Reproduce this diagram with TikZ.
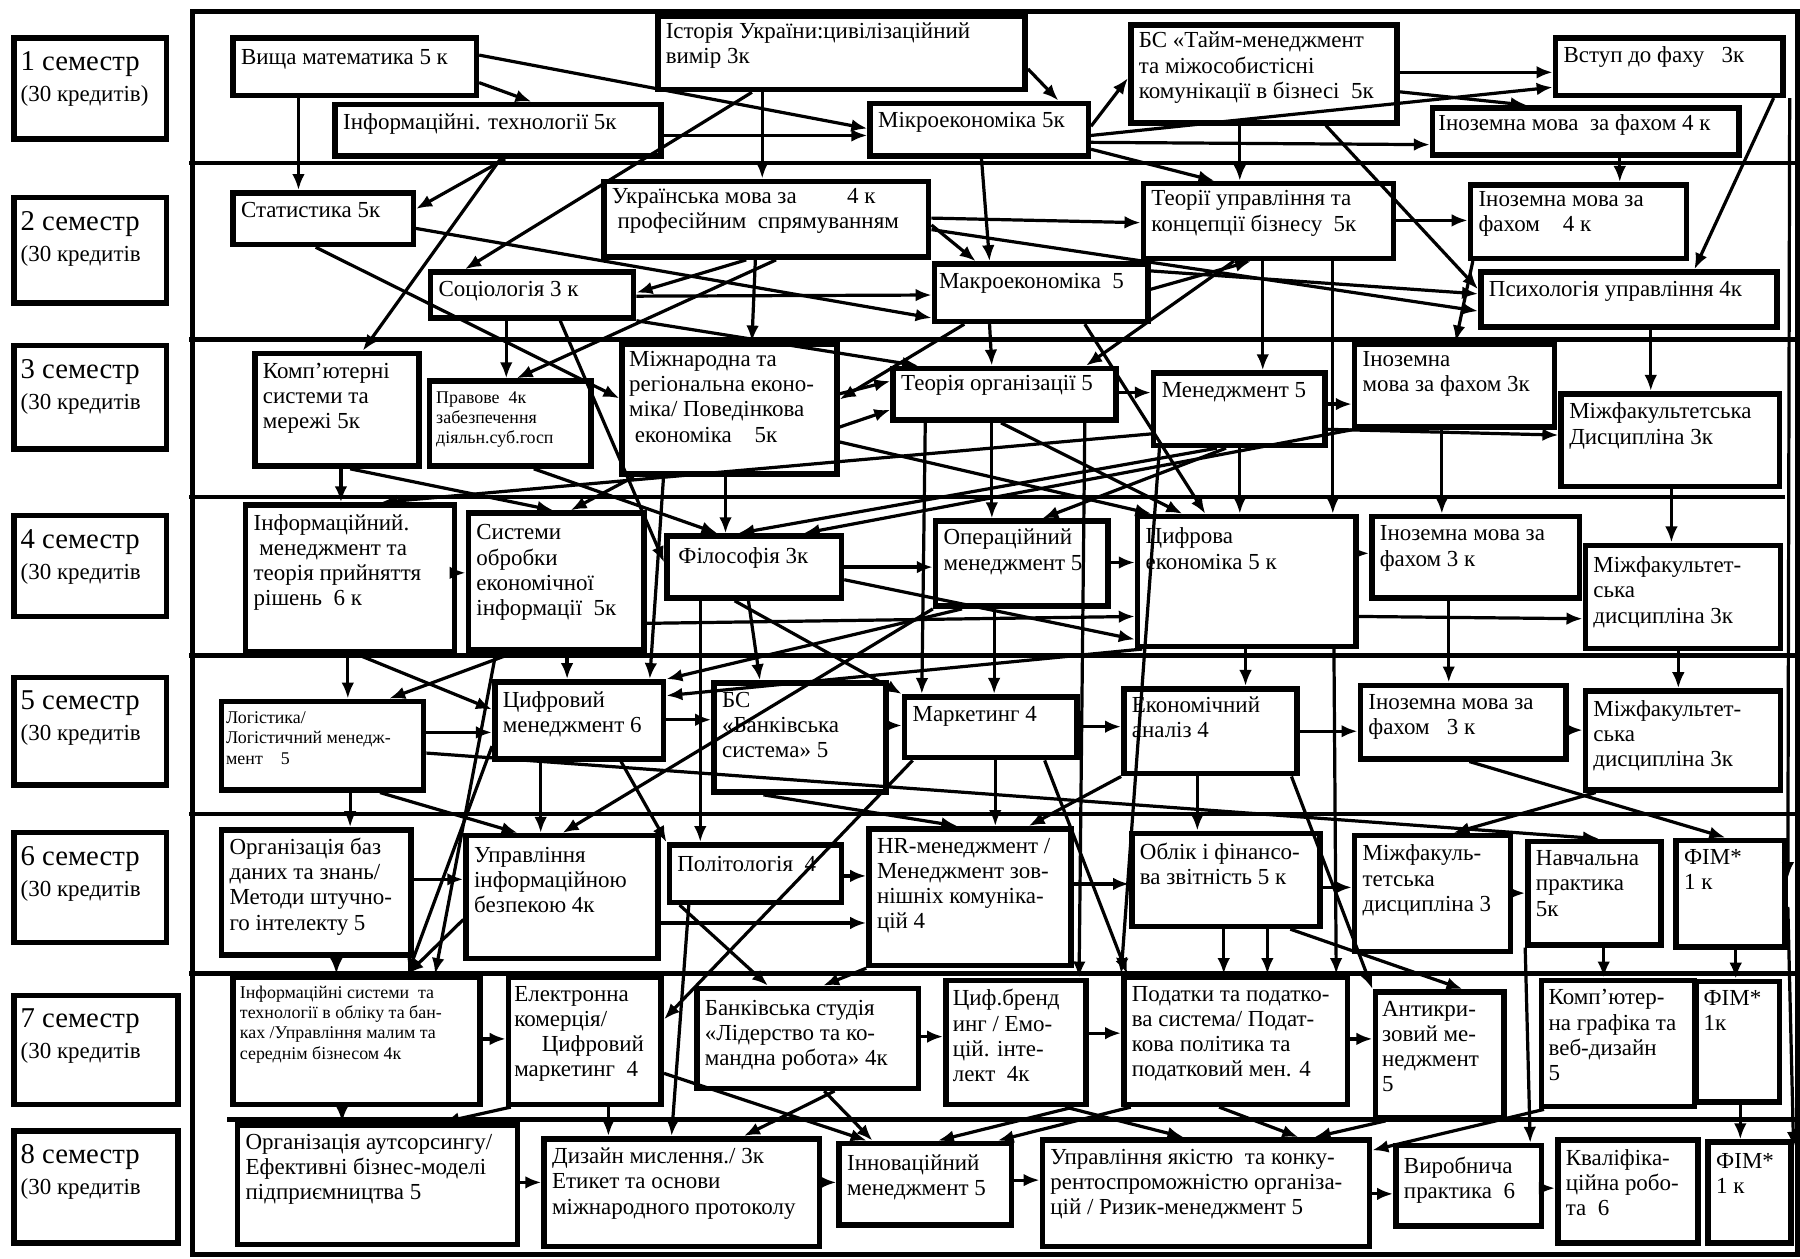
\documentclass[tikz,border=0pt]{standalone}
\usepackage{fontspec}
\setmainfont{Liberation Serif}
\usetikzlibrary{arrows.meta,fit}

\begin{document}
\begin{tikzpicture}[x=0.5pt, y=-0.5pt,
    box/.style={draw, line width=2.4pt, inner sep=0pt},
    txt/.style={anchor=north west, align=left, inner sep=0pt, font=\fontsize{10}{11}\selectfont},
    sm/.style={font=\fontsize{7.8}{8.8}\selectfont},
    sem/.style={font=\fontsize{12.5}{13.5}\selectfont},
    arr/.style={line width=1.4pt, -{Latex[length=7pt,width=5.5pt]}},
    sep/.style={line width=2pt}]
  \useasboundingbox (0,0) rectangle (1568,1096);

  % frame and semester rules
  \draw[line width=2.2pt] (168,10) rectangle (1566,1093);
  \draw[sep] (165,142) -- (1566,142);
  \draw[sep] (165,296) -- (1566,296);
  \draw[sep] (165,433) -- (1555,433);
  \draw[sep] (165,571) -- (1566,571);
  \draw[sep] (165,709) -- (1566,709);
  \draw[sep] (165,848) -- (1566,848);
  \draw[sep] (198,975) -- (1566,975);

  % semesters
  \node[box, fit={(12,33) (145,121)}] (S1) {};
  \node[box, fit={(12,172) (145,264)}] (S2) {};
  \node[box, fit={(12,301) (145,391)}] (S3) {};
  \node[box, fit={(12,449) (145,537)}] (S4) {};
  \node[box, fit={(12,590) (145,684)}] (S5) {};
  \node[box, fit={(12,725) (145,821)}] (S6) {};
  \node[box, fit={(12,867) (155,962)}] (S7) {};
  \node[box, fit={(12,985) (155,1083)}] (S8) {};
  \node[txt, sem] (S1t) at ([shift={(8,14)}]S1.north west) {1 семестр\\\fontsize{10}{11}\selectfont(30 кредитів)};
  \node[txt, sem] (S2t) at ([shift={(8,14)}]S2.north west) {2 семестр\\\fontsize{10}{11}\selectfont(30 кредитів};
  \node[txt, sem] (S3t) at ([shift={(8,14)}]S3.north west) {3 семестр\\\fontsize{10}{11}\selectfont(30 кредитів};
  \node[txt, sem] (S4t) at ([shift={(8,14)}]S4.north west) {4 семестр\\\fontsize{10}{11}\selectfont(30 кредитів};
  \node[txt, sem] (S5t) at ([shift={(8,14)}]S5.north west) {5 семестр\\\fontsize{10}{11}\selectfont(30 кредитів};
  \node[txt, sem] (S6t) at ([shift={(8,14)}]S6.north west) {6 семестр\\\fontsize{10}{11}\selectfont(30 кредитів};
  \node[txt, sem] (S7t) at ([shift={(8,14)}]S7.north west) {7 семестр\\\fontsize{10}{11}\selectfont(30 кредитів};
  \node[txt, sem] (S8t) at ([shift={(8,14)}]S8.north west) {8 семестр\\\fontsize{10}{11}\selectfont(30 кредитів};

  % courses
  \node[box, fit={(203,33) (415,83)}] (VM) {};
  \node[box, fit={(292,91) (576,136)}] (IT) {};
  \node[box, fit={(573,14) (893,78)}] (IU) {};
  \node[box, fit={(758,90) (948,136)}] (MiE) {};
  \node[box, fit={(985,22) (1217,107)}] (BS) {};
  \node[box, fit={(1355,33) (1553,83)}] (VF) {};
  \node[box, fit={(1248,94) (1515,135)}] (IM1) {};
  \node[box, fit={(203,168) (360,213)}] (ST) {};
  \node[box, fit={(526,158) (809,224)}] (UM) {};
  \node[box, fit={(375,237) (552,277)}] (SO) {};
  \node[box, fit={(814,230) (1000,280)}] (MaE) {};
  \node[box, fit={(996,160) (1214,225)}] (TU) {};
  \node[box, fit={(1281,161) (1469,225)}] (IM2) {};
  \node[box, fit={(1290,237) (1548,285)}] (PU) {};
  \node[box, fit={(222,308) (365,406)}] (KS) {};
  \node[box, fit={(374,332) (515,406)}] (PZ) {};
  \node[box, fit={(542,300) (729,413)}] (MR) {};
  \node[box, fit={(778,321) (972,366)}] (TO) {};
  \node[box, fit={(1005,325) (1154,388)}] (MN) {};
  \node[box, fit={(1180,300) (1354,372)}] (IM3) {};
  \node[box, fit={(1360,343) (1550,424)}] (MF1) {};
  \node[box, fit={(214,440) (396,568)}] (IMT) {};
  \node[box, fit={(408,447) (561,566)}] (SOE) {};
  \node[box, fit={(581,467) (733,521)}] (FI) {};
  \node[box, fit={(815,454) (965,528)}] (OM) {};
  \node[box, fit={(991,450) (1181,563)}] (CE) {};
  \node[box, fit={(1195,450) (1376,521)}] (IM4) {};
  \node[box, fit={(1381,475) (1551,565)}] (MF2) {};
  \node[box, fit={(193,611) (369,688)}] (LO) {};
  \node[box, fit={(431,594) (578,661)}] (CM) {};
  \node[box, fit={(622,595) (772,690)}] (BB) {};
  \node[box, fit={(788,607) (938,660)}] (MK) {};
  \node[box, fit={(979,600) (1130,674)}] (EA) {};
  \node[box, fit={(1185,597) (1364,661)}] (IM5) {};
  \node[box, fit={(1381,602) (1551,688)}] (MF3) {};
  \node[box, fit={(193,723) (358,832)}] (OB) {};
  \node[box, fit={(406,728) (573,835)}] (UIB) {};
  \node[box, fit={(583,736) (733,786)}] (PO) {};
  \node[box, fit={(757,722) (933,841)}] (HR) {};
  \node[box, fit={(986,726) (1150,807)}] (OF) {};
  \node[box, fit={(1180,728) (1316,829)}] (MF4) {};
  \node[box, fit={(1331,733) (1447,823)}] (NP) {};
  \node[box, fit={(1460,732) (1555,825)}] (FIM1) {};
  \node[box, fit={(203,851) (418,962)}] (IS) {};
  \node[box, fit={(443,851) (576,962)}] (EK) {};
  \node[box, fit={(607,861) (800,948)}] (BKS) {};
  \node[box, fit={(824,854) (946,962)}] (CB) {};
  \node[box, fit={(979,851) (1174,962)}] (PD) {};
  \node[box, fit={(1198,864) (1310,974)}] (AK) {};
  \node[box, fit={(1343,854) (1476,964)}] (KG) {};
  \node[box, fit={(1478,855) (1550,960)}] (FIM2) {};
  \node[box, fit={(207,980) (451,1084)}] (OA) {};
  \node[box, fit={(474,992) (714,1086)}] (DM) {};
  \node[box, fit={(731,996) (881,1067)}] (IN) {};
  \node[box, fit={(908,993) (1193,1086)}] (UY) {};
  \node[box, fit={(1216,998) (1343,1068)}] (VP) {};
  \node[box, fit={(1357,993) (1479,1083)}] (KR) {};
  \node[box, fit={(1488,995) (1560,1083)}] (FIM3) {};

  % course texts
  \node[txt] (VMt) at ([shift={(9,12)}]VM.north west) {Вища математика 5 к};
  \node[txt] (ITt) at ([shift={(9,10)}]IT.north west) {Інформаційні. технології 5к};
  \node[txt] (IUt) at ([shift={(9,8)}]IU.north west) {Історія України:цивілізаційний\\вимір 3к};
  \node[txt] (MiEt) at ([shift={(9,10)}]MiE.north west) {Мікроекономіка 5к};
  \node[txt] (BSt) at ([shift={(9,8)}]BS.north west) {БС «Тайм-менеджмент\\та міжособистісні\\комунікації в бізнесі\ \ 5к};
  \node[txt] (VFt) at ([shift={(9,10)}]VF.north west) {Вступ до фаху\ \ \ 3к};
  \node[txt] (IM1t) at ([shift={(7,8)}]IM1.north west) {Іноземна мова\ \ за фахом 4 к};
  \node[txt] (STt) at ([shift={(9,10)}]ST.north west) {Статистика 5к};
  \node[txt] (UMt) at ([shift={(9,8)}]UM.north west) {Українська мова за\hspace{2.2em}4 к\\\ професійним\ \ спрямуванням};
  \node[txt] (SOt) at ([shift={(9,10)}]SO.north west) {Соціологія 3 к};
  \node[txt] (MaEt) at ([shift={(6,10)}]MaE.north west) {Макроекономіка\ \ 5};
  \node[txt] (TUt) at ([shift={(9,8)}]TU.north west) {Теорії управління та\\концепції бізнесу\ \ 5к};
  \node[txt] (IM2t) at ([shift={(9,8)}]IM2.north west) {Іноземна мова за\\фахом\ \ \ \ 4 к};
  \node[txt] (PUt) at ([shift={(9,10)}]PU.north west) {Психологія управління 4к};
  \node[txt] (KSt) at ([shift={(9,10)}]KS.north west) {Комп’ютерні\\системи та\\мережі 5к};
  \node[txt, sm] (PZt) at ([shift={(8,11)}]PZ.north west) {Правове\ \ 4к\\забезпечення\\діяльн.суб.госп};
  \node[txt] (MRt) at ([shift={(8,8)}]MR.north west) {Міжнародна та\\регіональна еконо-\\міка/ Поведінкова\\\ економіка\ \ \ \ 5к};
  \node[txt] (TOt) at ([shift={(9,8)}]TO.north west) {Теорія організації 5};
  \node[txt] (MNt) at ([shift={(9,10)}]MN.north west) {Менеджмент 5};
  \node[txt] (IM3t) at ([shift={(9,8)}]IM3.north west) {Іноземна\\мова за фахом 3к};
  \node[txt] (MF1t) at ([shift={(9,10)}]MF1.north west) {Міжфакультетська\\Дисципліна 3к};
  \node[txt] (IMTt) at ([shift={(9,10)}]IMT.north west) {Інформаційний.\\\ менеджмент та\\теорія прийняття\\рішень\ \ 6 к};
  \node[txt] (SOEt) at ([shift={(9,12)}]SOE.north west) {Системи\\обробки\\економічної\\інформації\ \ 5к};
  \node[txt] (FIt) at ([shift={(12,12)}]FI.north west) {Філософія 3к};
  \node[txt] (OMt) at ([shift={(9,9)}]OM.north west) {Операційний\\менеджмент 5};
  \node[txt] (CEt) at ([shift={(9,12)}]CE.north west) {Цифрова\\економіка 5 к};
  \node[txt] (IM4t) at ([shift={(9,10)}]IM4.north west) {Іноземна мова за\\фахом 3 к};
  \node[txt] (MF2t) at ([shift={(9,12)}]MF2.north west) {Міжфакультет-\\ська\\дисципліна 3к};
  \node[txt, sm] (LOt) at ([shift={(6,11)}]LO.north west) {Логістика/\\Логістичний менедж-\\мент\ \ \ \ 5};
  \node[txt] (CMt) at ([shift={(9,10)}]CM.north west) {Цифровий\\менеджмент 6};
  \node[txt] (BBt) at ([shift={(9,10)}]BB.north west) {БС\\«Банківська\\система» 5};
  \node[txt] (MKt) at ([shift={(9,10)}]MK.north west) {Маркетинг 4};
  \node[txt] (EAt) at ([shift={(9,9)}]EA.north west) {Економічний\\аналіз 4};
  \node[txt] (IM5t) at ([shift={(9,10)}]IM5.north west) {Іноземна мова за\\фахом\ \ \ 3 к};
  \node[txt] (MF3t) at ([shift={(9,10)}]MF3.north west) {Міжфакультет-\\ська\\дисципліна 3к};
  \node[txt] (OBt) at ([shift={(9,9)}]OB.north west) {Організація баз\\даних та знань/\\Методи штучно-\\го інтелекту 5};
  \node[txt] (UIBt) at ([shift={(9,12)}]UIB.north west) {Управління\\інформаційною\\безпекою 4к};
  \node[txt] (POt) at ([shift={(9,12)}]PO.north west) {Політологія\ \ 4};
  \node[txt] (HRt) at ([shift={(9,10)}]HR.north west) {HR-менеджмент /\\Менеджмент зов-\\нішніх комуніка-\\цій 4};
  \node[txt] (OFt) at ([shift={(9,10)}]OF.north west) {Облік і фінансо-\\ва звітність 5 к};
  \node[txt] (MF4t) at ([shift={(9,10)}]MF4.north west) {Міжфакуль-\\тетська\\дисципліна 3};
  \node[txt] (NPt) at ([shift={(9,10)}]NP.north west) {Навчальна\\практика\\5к};
  \node[txt] (FIM1t) at ([shift={(9,10)}]FIM1.north west) {ФІМ*\\1 к};
  \node[txt, sm] (ISt) at ([shift={(8,10)}]IS.north west) {Інформаційні системи\ \ та\\технології в обліку та бан-\\ках /Управління малим та\\середнім бізнесом 4к};
  \node[txt] (EKt) at ([shift={(7,10)}]EK.north west) {Електронна\\комерція/\\\hspace{1.2em}Цифровий\\маркетинг\ \ 4};
  \node[txt] (BKSt) at ([shift={(9,12)}]BKS.north west) {Банківська студія\\«Лідерство та ко-\\мандна робота» 4к};
  \node[txt] (CBt) at ([shift={(8,10)}]CB.north west) {Циф.бренд\\инг / Емо-\\цій. інте-\\лект\ \ 4к};
  \node[txt] (PDt) at ([shift={(9,10)}]PD.north west) {Податки та податко-\\ва система/ Подат-\\кова політика та\\податковий мен. 4};
  \node[txt] (AKt) at ([shift={(8,10)}]AK.north west) {Антикри-\\зовий ме-\\неджмент\\5};
  \node[txt] (KGt) at ([shift={(8,10)}]KG.north west) {Комп’ютер-\\на графіка та\\веб-дизайн\\5};
  \node[txt] (FIM2t) at ([shift={(8,10)}]FIM2.north west) {ФІМ*\\1к};
  \node[txt] (OAt) at ([shift={(9,10)}]OA.north west) {Організація аутсорсингу/\\Ефективні бізнес-моделі\\підприємництва 5};
  \node[txt] (DMt) at ([shift={(9,10)}]DM.north west) {Дизайн мислення./ 3к\\Етикет та основи\\міжнародного протоколу};
  \node[txt] (INt) at ([shift={(9,12)}]IN.north west) {Інноваційний\\менеджмент 5};
  \node[txt] (UYt) at ([shift={(9,10)}]UY.north west) {Управління якістю\ \ та конку-\\рентоспроможністю організа-\\цій / Ризик-менеджмент 5};
  \node[txt] (VPt) at ([shift={(9,12)}]VP.north west) {Виробнича\\практика\ \ 6};
  \node[txt] (KRt) at ([shift={(9,10)}]KR.north west) {Кваліфіка-\\ційна робо-\\та\ \ 6};
  \node[txt] (FIM3t) at ([shift={(9,12)}]FIM3.north west) {ФІМ*\\1 к};

  % semester 1
  \draw[arr] (VM.south -| 260,0) -- (ST.north -| 260,0);
  \draw[arr] (VM.east |- 0,72) -- (IT.north -| 463,0);
  \draw[arr] (VM.east |- 0,48) -- (MiE.west |- 0,112);
  \draw[arr] (IT.east |- 0,118) -- (MiE.west |- 0,118);
  \draw[arr] (IT.south -| 440,0) -- (ST.east |- 0,182);
  \draw[arr] (IT.south -| 436,0) -- (KS.north -| 316,0);
  \draw[arr] (IU.south -| 655,0) -- (SO.north -| 405,0);
  \draw[arr] (IU.south -| 664,0) -- (UM.north -| 664,0);
  \draw[arr] (IU.east |- 0,60) -- (MiE.north -| 922,0);
  \draw[arr] (MiE.east |- 0,110) -- (BS.west |- 0,68);
  \draw[arr] (MiE.south -| 855,0) -- (MaE.north -| 862,0);
  \draw[arr] (MiE.east |- 0,124) -- (IM1.west |- 0,126);
  \draw[arr] (MiE.east |- 0,118) -- (VF.west |- 0,76);
  \draw[arr] (MiE.east |- 0,130) -- (TU.north -| 1058,0);
  \draw[arr] (BS.east |- 0,63) -- (VF.west |- 0,63);
  \draw[arr] (BS.east |- 0,80) -- (IM1.north -| 1330,0);
  \draw[arr] (BS.south -| 1080,0) -- (TU.north -| 1080,0);
  \draw[arr] (BS.south -| 1155,0) -- (PU.west |- 0,252);
  \draw[arr] (VF.south -| 1545,0) -- (PU.north -| 1476,0);
  \draw[arr] (VF.south -| 1559,0) -- (FIM1.east |- 0,765);
  \draw[arr] (FIM1.east |- 0,790) -- (FIM3.east |- 0,1000);
  \draw[arr] (IM1.south -| 1411,0) -- (IM2.north -| 1411,0);

  % semester 2
  \draw[arr] (UM.east |- 0,190) -- (TU.west |- 0,194);
  \draw[arr] (UM.east |- 0,196) -- (MaE.north -| 850,0);
  \draw[arr] (UM.east |- 0,200) -- (PU.west |- 0,271);
  \draw[arr] (UM.south -| 650,0) -- (SO.east |- 0,255);
  \draw[arr] (UM.south -| 676,0) -- (PZ.north -| 450,0);
  \draw[arr] (UM.south -| 658,0) -- (MR.north -| 655,0);
  \draw[arr] (SO.east |- 0,258) -- (MaE.west |- 0,257);
  \draw[arr] (ST.east |- 0,199) -- (MaE.west |- 0,277);
  \draw[arr] (ST.south -| 275,0) -- (MR.west |- 0,347);
  \draw[arr] (SO.south -| 441,0) -- (PZ.north -| 441,0);
  \draw[arr] (SO.south -| 488,0) -- (FI.west |- 0,490);
  \draw[arr] (SO.south east) -- (TO.north -| 800,0);
  \draw[arr] (TU.east |- 0,192) -- (IM2.west |- 0,192);
  \draw[arr] (MaE.east |- 0,236) -- (PU.west |- 0,256);
  \draw[arr] (MaE.east |- 0,252) -- (TU.south -| 1090,0);
  \draw[arr] (MaE.south -| 862,0) -- (TO.north -| 864,0);
  \draw[arr] (MaE.south -| 840,0) -- (MR.east |- 0,348);
  \draw[arr] (MaE.south -| 945,0) -- (CE.north -| 1050,0);
  \draw[arr] (TU.south -| 1075,0) -- (TO.north -| 946,0);
  \draw[arr] (TU.south -| 1100,0) -- (MN.north -| 1100,0);
  \draw[arr] (TU.south -| 1161,0) -- (CE.north -| 1161,0);
  \draw[arr] (IM2.south -| 1283,0) -- (IM3.north -| 1268,0);
  \draw[arr] (PU.south -| 1438,0) -- (MF1.north -| 1438,0);

  % semester 3
  \draw[arr] (KS.south -| 297,0) -- (IMT.north -| 297,0);
  \draw[arr] (KS.south -| 305,0) -- (SOE.north -| 482,0);
  \draw[arr] (MR.south -| 552,0) -- (SOE.north -| 497,0);
  \draw[arr] (PZ.south -| 465,0) -- (FI.north -| 625,0);
  \draw[arr] (MR.south -| 632,0) -- (FI.north -| 632,0);
  \draw[arr] (MR.south -| 578,0) -- (CM.north -| 566,0);
  \draw[arr] (MR.east |- 0,343) -- (TO.west |- 0,332);
  \draw[arr] (MR.east |- 0,372) -- (TO.west |- 0,357);
  \draw[arr] (MR.east |- 0,385) -- (CE.north -| 1003,0);
  \draw[arr] (TO.east |- 0,342) -- (MN.west |- 0,342);
  \draw[arr] (TO.south -| 864,0) -- (OM.north -| 864,0);
  \draw[arr] (TO.south -| 872,0) -- (CE.north -| 1030,0);
  \draw[arr] (TO.south -| 806,0) -- (MK.north -| 803,0);
  \draw[arr] (TO.south -| 945,0) -- (CB.north -| 940,0);
  \draw[arr] (MN.east |- 0,352) -- (IM3.west |- 0,352);
  \draw[arr] (MN.east |- 0,374) -- (MF1.west |- 0,379);
  \draw[arr] (MN.south -| 1080,0) -- (CE.north -| 1080,0);
  \draw[arr] (MN.south -| 1068,0) -- (OM.north -| 908,0);
  \draw[arr] (MN.south -| 1060,0) -- (FI.north -| 643,0);
  \draw[arr] (MN.west |- 0,378) -- (IMT.north -| 332,0);
  \draw[arr] (MN.south -| 1010,0) -- (PD.north west);
  \draw[arr] (IM3.south west) -- (FI.north -| 700,0);
  \draw[arr] (IM3.south -| 1256,0) -- (IM4.north -| 1256,0);
  \draw[arr] (MF1.south -| 1456,0) -- (MF2.north -| 1456,0);

  % semester 4
  \draw[arr] (IMT.east |- 0,499) -- (SOE.west |- 0,499);
  \draw[arr] (IMT.south -| 303,0) -- (LO.north -| 303,0);
  \draw[arr] (IMT.south -| 312,0) -- (CM.west |- 0,618);
  \draw[arr] (SOE.south -| 448,0) -- (LO.north -| 339,0);
  \draw[arr] (SOE.south -| 494,0) -- (CM.north -| 494,0);
  \draw[arr] (SOE.east |- 0,543) -- (CE.west |- 0,537);
  \draw[arr] (SOE.south -| 432,0) -- (IS.north -| 379,0);
  \draw[arr] (FI.east |- 0,494) -- (OM.west |- 0,494);
  \draw[arr] (FI.south -| 652,0) -- (BB.north -| 662,0);
  \draw[arr] (FI.south -| 610,0) -- (PO.north -| 610,0);
  \draw[arr] (FI.south -| 640,0) -- (MK.north west);
  \draw[arr] (FI.east |- 0,505) -- (CE.west |- 0,557);
  \draw[arr] (OM.east |- 0,490) -- (CE.west |- 0,490);
  \draw[arr] (OM.south -| 866,0) -- (MK.north -| 866,0);
  \draw[arr] (OM.south -| 838,0) -- (CM.north east);
  \draw[arr] (OM.south west) -- (UIB.north -| 490,0);
  \draw[arr] (CE.east |- 0,482) -- (IM4.west |- 0,482);
  \draw[arr] (CE.east |- 0,537) -- (MF2.west |- 0,539);
  \draw[arr] (CE.south -| 1085,0) -- (EA.north -| 1085,0);
  \draw[arr] (CE.south -| 995,0) -- (CM.east |- 0,606);
  \draw[arr] (CE.south -| 1162,0) -- (PD.north -| 1164,0);
  \draw[arr] (IM4.south -| 1262,0) -- (IM5.north -| 1262,0);
  \draw[arr] (MF2.south -| 1462,0) -- (MF3.north -| 1462,0);

  % semester 5
  \draw[arr] (LO.east |- 0,638) -- (CM.west |- 0,638);
  \draw[arr] (LO.south -| 305,0) -- (OB.north -| 305,0);
  \draw[arr] (LO.south -| 331,0) -- (UIB.north -| 451,0);
  \draw[arr] (LO.east |- 0,656) -- (NP.north -| 1393,0);
  \draw[arr] (CM.east |- 0,627) -- (BB.west |- 0,627);
  \draw[arr] (CM.south -| 471,0) -- (UIB.north -| 471,0);
  \draw[arr] (CM.west |- 0,650) -- (IS.north -| 355,0);
  \draw[arr] (CM.south -| 541,0) -- (PO.north west);
  \draw[arr] (BB.east |- 0,632) -- (MK.west |- 0,632);
  \draw[arr] (BB.south -| 665,0) -- (HR.north -| 834,0);
  \draw[arr] (MK.east |- 0,633) -- (EA.west |- 0,633);
  \draw[arr] (MK.south -| 867,0) -- (HR.north -| 867,0);
  \draw[arr] (MK.south -| 795,0) -- (EK.east |- 0,888);
  \draw[arr] (MK.south -| 910,0) -- (PD.north -| 982,0);
  \draw[arr] (EA.east |- 0,637) -- (IM5.west |- 0,637);
  \draw[arr] (EA.south -| 1043,0) -- (OF.north -| 1043,0);
  \draw[arr] (EA.south west) -- (HR.north -| 896,0);
  \draw[arr] (EA.south -| 1125,0) -- (AK.north west);
  \draw[arr] (IM5.east |- 0,636) -- (MF3.west |- 0,636);
  \draw[arr] (IM5.south -| 1280,0) -- (FIM1.north -| 1503,0);
  \draw[arr] (MF3.south -| 1390,0) -- (MF4.north -| 1266,0);

  % semester 6
  \draw[arr] (OB.east |- 0,766) -- (UIB.west |- 0,766);
  \draw[arr] (OB.south -| 293,0) -- (IS.north -| 293,0);
  \draw[arr] (UIB.west |- 0,801) -- (IS.north -| 355,0);
  \draw[arr] (UIB.east |- 0,804) -- (HR.west |- 0,804);
  \draw[arr] (PO.east |- 0,763) -- (HR.west |- 0,763);
  \draw[arr] (PO.south -| 600,0) -- (DM.north -| 585,0);
  \draw[arr] (PO.south -| 592,0) -- (BKS.north -| 669,0);
  \draw[arr] (HR.east |- 0,770) -- (OF.west |- 0,770);
  \draw[arr] (HR.south west) -- (BKS.north -| 717,0);
  \draw[arr] (OF.east |- 0,773) -- (MF4.west |- 0,773);
  \draw[arr] (OF.south -| 1066,0) -- (PD.north -| 1066,0);
  \draw[arr] (OF.south -| 1104,0) -- (PD.north -| 1104,0);
  \draw[arr] (OF.south -| 1124,0) -- (AK.north -| 1274,0);
  \draw[arr] (MF4.east |- 0,778) -- (NP.west |- 0,778);
  \draw[arr] (NP.south -| 1397,0) -- (KG.north -| 1397,0);
  \draw[arr] (NP.south west) -- (VP.north -| 1333,0);
  \draw[arr] (FIM1.south -| 1512,0) -- (FIM2.north -| 1512,0);

  % semester 7
  \draw[arr] (IS.east |- 0,905) -- (EK.west |- 0,905);
  \draw[arr] (IS.south -| 298,0) -- (OA.north -| 298,0);
  \draw[arr] (EK.south -| 445,0) -- (OA.north -| 386,0);
  \draw[arr] (EK.south -| 530,0) -- (DM.north -| 530,0);
  \draw[arr] (EK.east |- 0,935) -- (IN.north -| 755,0);
  \draw[arr] (BKS.east |- 0,903) -- (CB.west |- 0,903);
  \draw[arr] (BKS.south -| 727,0) -- (DM.north -| 648,0);
  \draw[arr] (BKS.south -| 718,0) -- (IN.north -| 760,0);
  \draw[arr] (CB.east |- 0,900) -- (PD.west |- 0,900);
  \draw[arr] (CB.south -| 935,0) -- (IN.north -| 817,0);
  \draw[arr] (CB.south -| 928,0) -- (UY.north -| 1031,0);
  \draw[arr] (PD.east |- 0,905) -- (AK.west |- 0,905);
  \draw[arr] (PD.south -| 985,0) -- (IN.north -| 869,0);
  \draw[arr] (PD.south -| 1062,0) -- (UY.north -| 1131,0);
  \draw[arr] (AK.south -| 1207,0) -- (UY.north -| 1145,0);
  \draw[arr] (KG.south -| 1345,0) -- (UY.east |- 0,1002);
  \draw[arr] (FIM2.south -| 1516,0) -- (FIM3.north -| 1516,0);

  % semester 8
  \draw[arr] (OA.east |- 0,1030) -- (DM.west |- 0,1030);
  \draw[arr] (DM.east |- 0,1030) -- (IN.west |- 0,1030);
  \draw[arr] (IN.east |- 0,1028) -- (UY.west |- 0,1028);
  \draw[arr] (UY.east |- 0,1040) -- (VP.west |- 0,1040);
  \draw[arr] (VP.east |- 0,1035) -- (KR.west |- 0,1035);
\end{tikzpicture}
\end{document}
